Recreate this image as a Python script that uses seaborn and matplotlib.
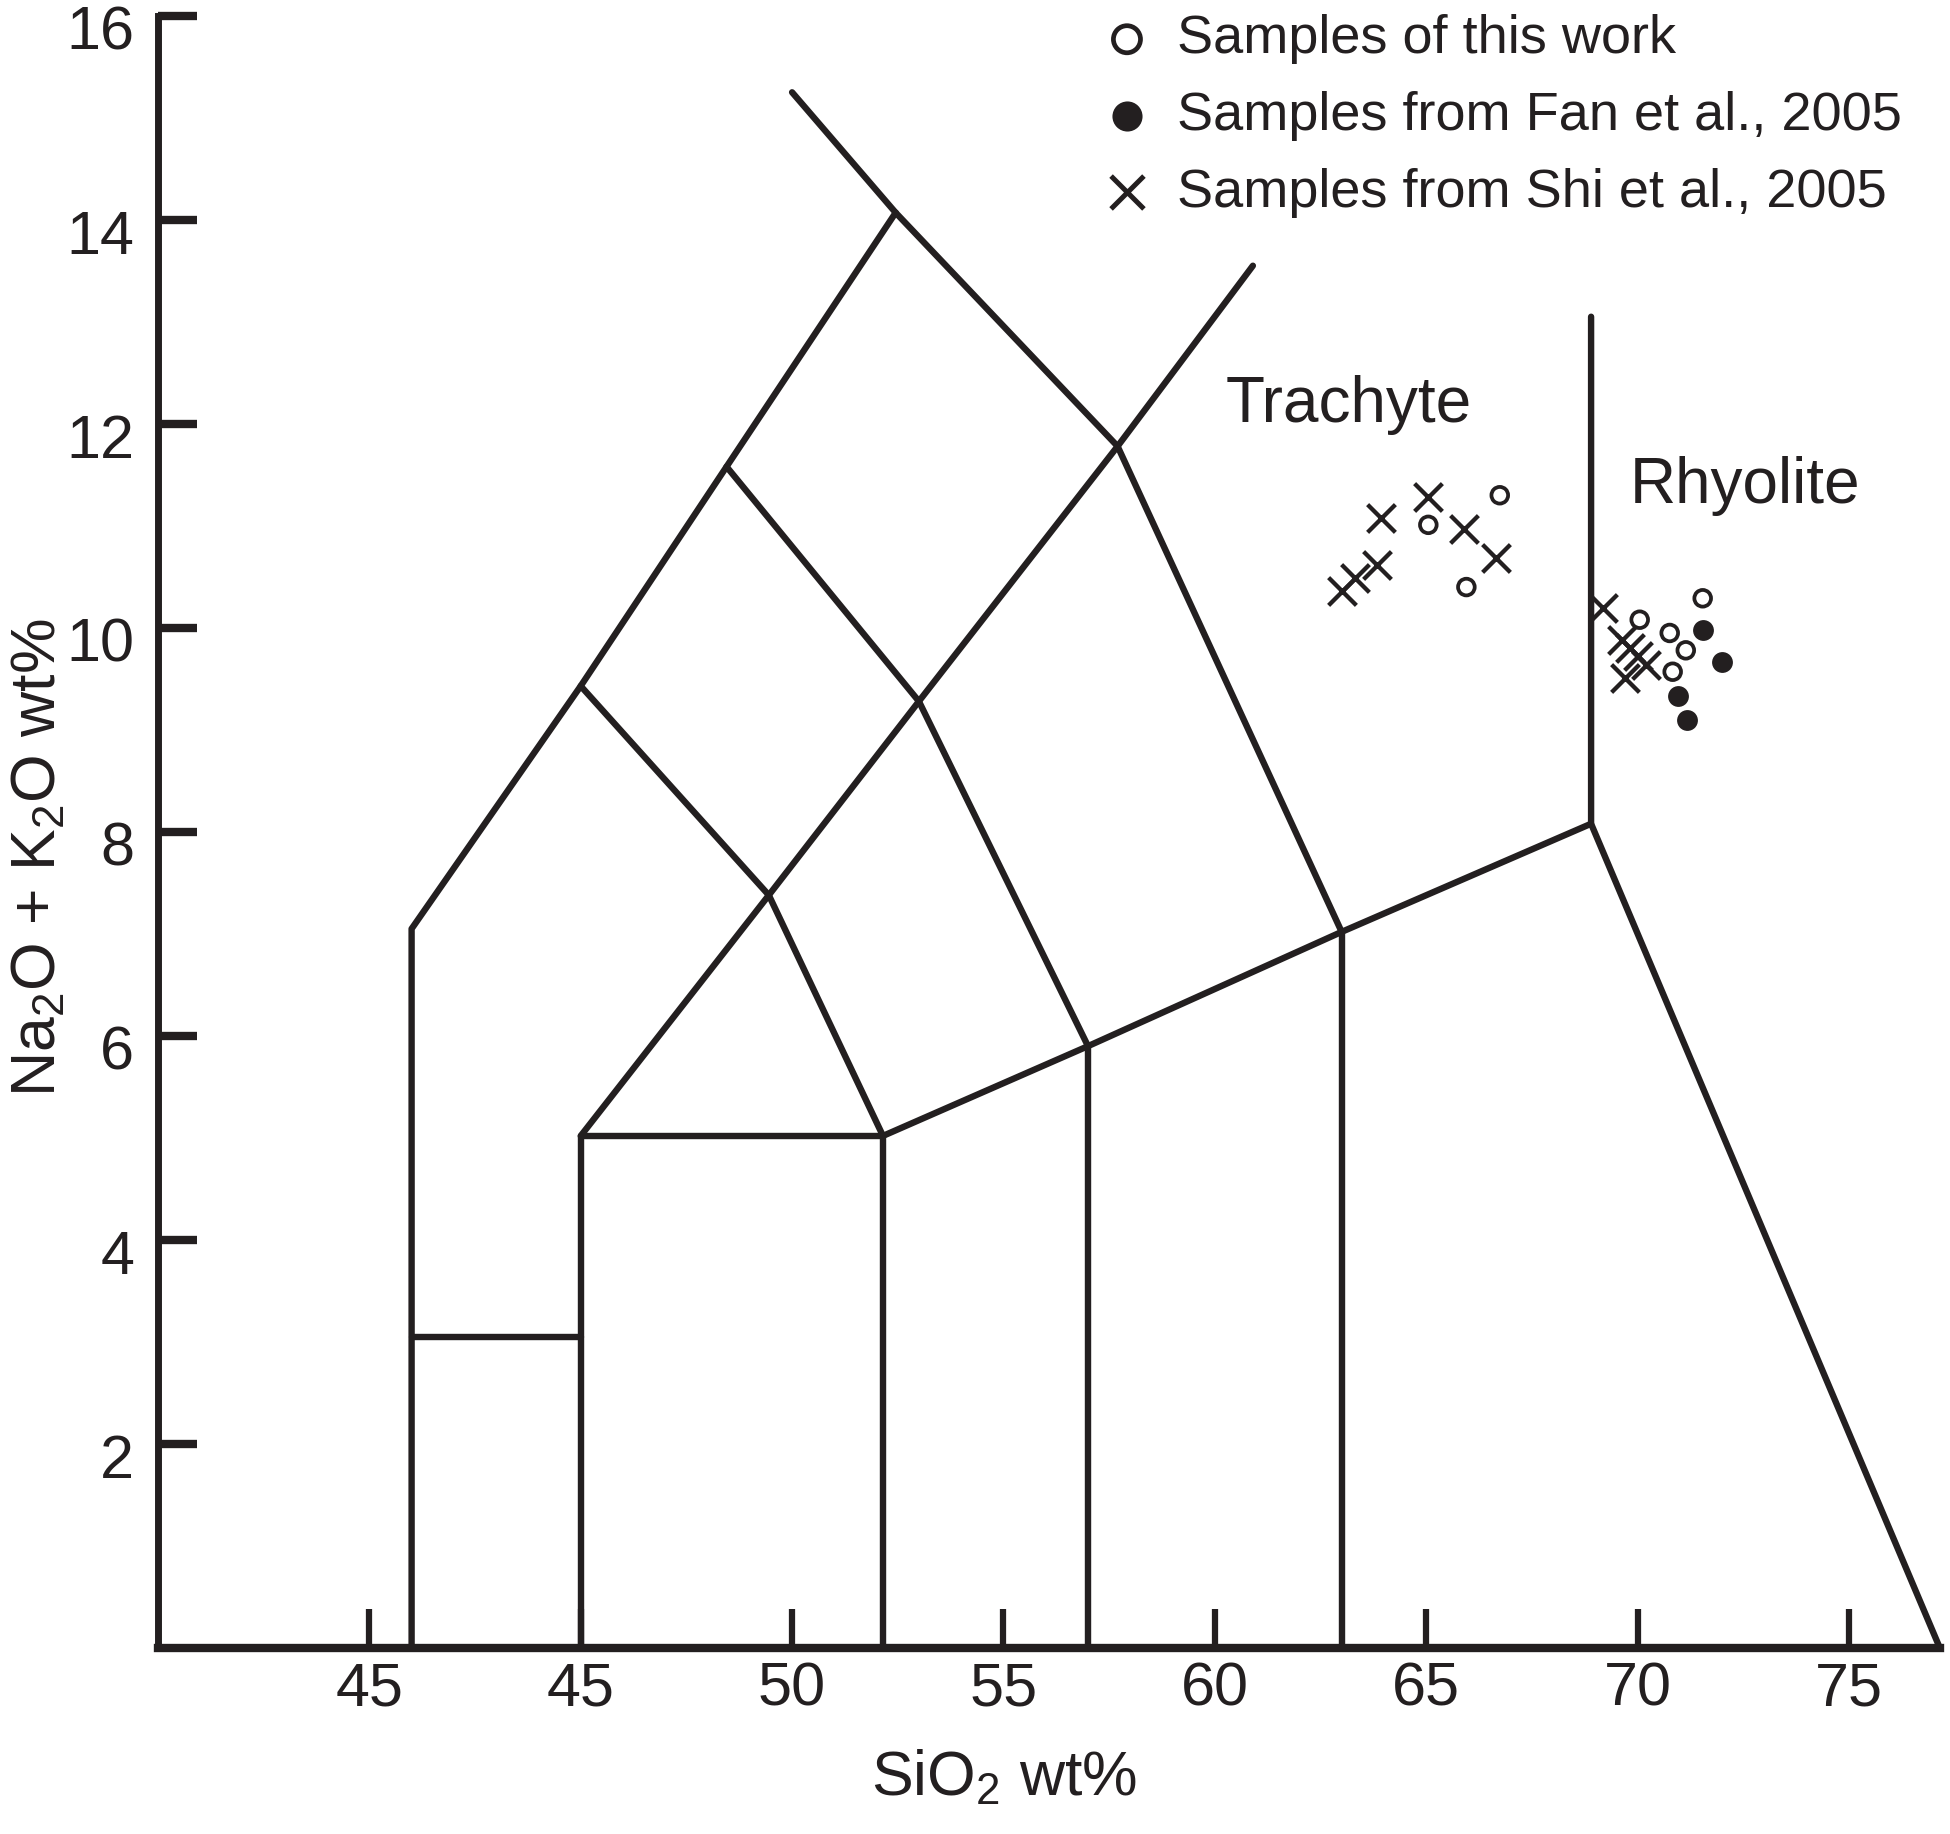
import matplotlib
matplotlib.use("Agg")
import matplotlib.pyplot as plt
import matplotlib.transforms as mtransforms
import seaborn as sns

sns.set_style("ticks")
plt.rcParams['font.family'] = ['Liberation Sans', 'DejaVu Sans']
plt.rcParams['mathtext.default'] = 'regular'

INK = '#231f20'

# TAS field boundaries (SiO2, Na2O+K2O), one polyline per list
bound_x = [
    [41, 41, 45, 48.45, 52.45],
    [52.45, 50.0],
    [52.45, 57.7, 63],
    [57.7, 60.9],
    [41, 45],
    [45, 45, 52.15, 52.15],
    [45, 49.45, 52.15],
    [48.45, 53, 57],
    [45, 49.45, 53, 57.7],
    [52.15, 57, 63, 68.9],
    [57, 57],
    [63, 63],
    [68.9, 68.9, 77.15],
]
bound_y = [
    [0, 7.05, 9.43, 11.58, 14.07],
    [14.07, 15.25],
    [14.07, 11.78, 7.02],
    [11.78, 13.55],
    [3.05, 3.05],
    [0, 5.02, 5.02, 0],
    [9.43, 7.38, 5.02],
    [11.58, 9.28, 5.9],
    [5.02, 7.38, 9.28, 11.78],
    [5.02, 5.9, 7.02, 8.08],
    [0, 5.9],
    [0, 7.02],
    [13.05, 8.08, 0],
]

# samples
this_x = [65.05, 66.74, 65.95, 71.54, 70.05, 70.76, 71.14, 70.83]
this_y = [11.01, 11.30, 10.40, 10.29, 10.08, 9.95, 9.78, 9.57]

fan_x = [71.54, 71.99, 70.96, 71.16]
fan_y = [9.98, 9.67, 9.33, 9.10]

shi_x = [63.00, 63.31, 63.84, 63.93, 65.05, 65.89, 66.64,
         69.19, 69.62, 69.81, 70.01, 70.21, 69.70]
shi_y = [10.36, 10.49, 10.62, 11.08, 11.28, 10.97, 10.68,
         10.19, 9.88, 9.80, 9.72, 9.64, 9.51]

xticks = [40, 45, 50, 55, 60, 65, 70, 75]
xtick_labels = ['45', '45', '50', '55', '60', '65', '70', '75']
yticks = [2, 4, 6, 8, 10, 12, 14, 16]

fig = plt.figure(figsize=(19.5, 18.34), dpi=100)
ax = fig.add_axes([0.0810, 0.1014, 0.9138, 0.8900])

for bx, by in zip(bound_x, bound_y):
    ax.plot(bx, by, color=INK, lw=4.6, clip_on=False, zorder=2)

sns.scatterplot(x=this_x, y=this_y, marker='o', s=144, facecolor='none',
                edgecolor=INK, linewidth=2.7, label='Samples of this work',
                ax=ax, zorder=3)
sns.scatterplot(x=fan_x, y=fan_y, marker='o', s=225, color=INK,
                linewidth=0, label='Samples from Fan et al., 2005',
                ax=ax, zorder=3)
sns.scatterplot(x=shi_x, y=shi_y, marker='x', s=400, color=INK,
                linewidth=3.1, label='Samples from Shi et al., 2005',
                ax=ax, zorder=3)

ax.text(60.26, 12.02, 'Trachyte', fontsize=46, color=INK,
        ha='left', va='baseline')
ax.text(69.82, 11.22, 'Rhyolite', fontsize=46, color=INK,
        ha='left', va='baseline')

ax.set_xlim(35, 77.15)
ax.set_ylim(0, 16)
ax.set_xticks(xticks)
ax.set_xticklabels(xtick_labels)
ax.set_yticks(yticks)
ax.set_yticklabels([str(v) for v in yticks])

ax.tick_params(axis='x', direction='in', length=28, width=4.5,
               pad=9.5, labelsize=44, colors=INK)
ax.tick_params(axis='y', direction='in', length=28, width=6,
               pad=17, labelsize=44, colors=INK)

# y labels sit a little below their ticks in the original
shift = mtransforms.ScaledTranslation(0, -0.12, fig.dpi_scale_trans)
for lab in ax.get_yticklabels():
    lab.set_transform(lab.get_transform() + shift)

sns.despine(ax=ax)
ax.spines['left'].set_linewidth(5)
ax.spines['bottom'].set_linewidth(6)
ax.spines['left'].set_color(INK)
ax.spines['bottom'].set_color(INK)

ax.set_xlabel('SiO$_2$ wt%', fontsize=45, color=INK)
ax.xaxis.set_label_coords(0.475, -0.0613)
ax.set_ylabel('Na$_2$O + K$_2$O wt%', fontsize=45, color=INK)
ax.yaxis.set_label_coords(-0.0505, 0.484)

leg = ax.legend(loc='upper left', bbox_to_anchor=(0.5286, 1.0008),
                frameon=False, fontsize=39,
                handlelength=1.0, handletextpad=0.43, labelspacing=0.49,
                borderpad=0, borderaxespad=0)
for t in leg.get_texts():
    t.set_color(INK)
handles = leg.legend_handles
handles[0].set_sizes([380])
handles[0].set_linewidths([3.4])
handles[1].set_sizes([470])
handles[2].set_sizes([560])
handles[2].set_linewidths([3.6])

fig.savefig('out.png', dpi=100)
